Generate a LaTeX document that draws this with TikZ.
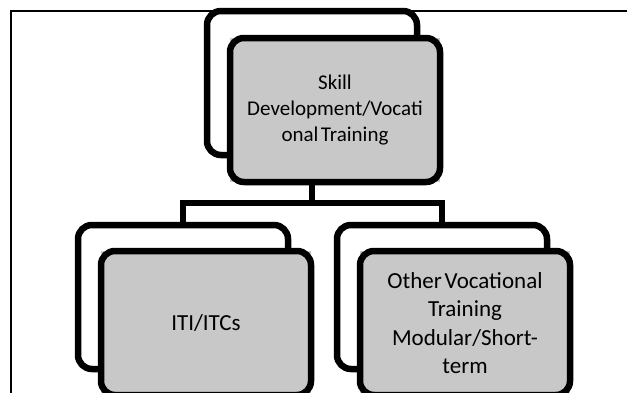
\documentclass[tikz,border=0pt]{standalone}
\usepackage{fontspec}
\setmainfont{Carlito}
\definecolor{boxgray}{RGB}{200,200,200}
% tighter word gaps for the box labels
\newcommand\narrowgaps{\fontdimen2\font=0.12em\relax}
\newcommand\topfont{\fontsize{21}{25.6}\selectfont\narrowgaps}
\newcommand\lowfont{\fontsize{23}{28.5}\selectfont\narrowgaps}
\begin{document}
\begin{tikzpicture}[x=1pt,y=-1pt,
  boxline/.style={draw=black, line width=6.5pt, rounded corners=14pt},
  backbox/.style={boxline, minimum width=210pt, minimum height=144pt, inner sep=0pt},
  frontbox/.style={fill=boxgray, minimum width=210pt, minimum height=144pt,
    inner sep=0pt, outer sep=0pt, align=center, font=\topfont},
  lowtext/.style={font=\lowfont},
  link/.style={draw=black, line width=6pt},
  frameline/.style={draw=black, line width=1.6pt}]
\useasboundingbox (0,0) rectangle (627,392);
\clip (0,0) rectangle (627,392);

% page frame
\draw[frameline] (11,400) -- (11,11) -- (640,11);

% top pair
\node[backbox] (tb) at (312,83) {};
\node[frontbox] (tf) at (335,110) {Skill\\Development/Vocati\\onal Training};
\draw[boxline] (tf.north west) rectangle (tf.south east);

% bottom pairs
\node[backbox] (lb) at (183,297) {};
\node[frontbox, lowtext] (lf) at (206,323) {ITI/ITCs};
\draw[boxline] (lf.north west) rectangle (lf.south east);

\node[backbox] (rb) at (442,297) {};
\node[frontbox, lowtext] (rf) at (465,323) {Other Vocational\\Training\\Modular/Short-\\term};
\draw[boxline] (rf.north west) rectangle (rf.south east);

% connectors
\draw[link] (tb.center |- tf.south) -- ++(0,21) coordinate (j);
\draw[link] (lb.north) |- (j) -| (rb.north);
\end{tikzpicture}
\end{document}
